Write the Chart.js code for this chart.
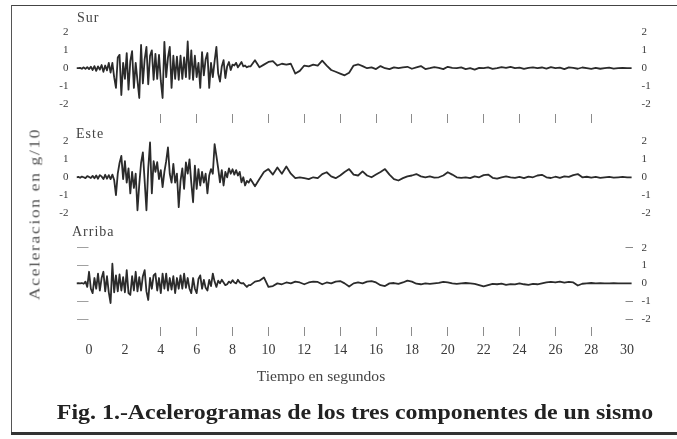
<!DOCTYPE html>
<html><head><meta charset="utf-8">
<script src="https://cdn.jsdelivr.net/npm/chart.js@4.4.0/dist/chart.umd.min.js"></script>
<style>
html,body{margin:0;padding:0;background:#fff;}
#wrap{position:relative;width:677px;height:439px;overflow:hidden;background:#fff;font-family:"Liberation Serif","Times New Roman",serif;color:#333;}
#c{position:absolute;left:0;top:0;}
.t{position:absolute;white-space:nowrap;line-height:1;}
.fit{transform-origin:50% 50%;}
</style></head><body>
<div id="wrap">
<div style="position:absolute;left:12px;top:5px;width:665px;height:0;border-top:1.5px solid #444"></div>
<div style="position:absolute;left:11px;top:5px;width:0;height:430px;border-left:1.5px solid #555"></div>
<div style="position:absolute;left:11px;top:432px;width:666px;height:3px;background:#333"></div>
<canvas id="c" width="677" height="439"></canvas>
<div class="t" style="left:77px;top:11px;font-size:14px;letter-spacing:1px;color:#444">Sur</div>
<div class="t" style="left:76px;top:127px;font-size:14px;letter-spacing:1px;color:#444">Este</div>
<div class="t" style="left:72px;top:225px;font-size:14px;letter-spacing:1px;color:#444">Arriba</div>
<div class="t fit" id="ytitle" style="left:35px;top:214px;font-size:15px;color:#555">Aceleracion en g/10</div>
<div class="t fit" id="xtitle" style="left:321px;top:377px;font-size:14px;color:#444">Tiempo en segundos</div>
<div class="t fit" id="caption" style="left:355px;top:412px;font-size:20px;font-weight:bold;color:#222">Fig. 1.-Acelerogramas de los tres componentes de un sismo</div>
</div>
<script>
// time base (s)
const TIME_S = [
-0.7,-0.6,-0.5,-0.4,-0.3,-0.2,-0.1,0,0.1,0.2,
0.3,0.4,0.5,0.6,0.7,0.8,0.9,1.0,1.1,1.2,
1.3,1.4,1.5,1.6,1.7,1.8,1.9,2.0,2.1,2.2,
2.3,2.4,2.5,2.6,2.7,2.8,2.9,3.0,3.1,3.2,
3.3,3.4,3.5,3.6,3.7,3.8,3.9,4.0,4.1,4.2,
4.3,4.4,4.5,4.6,4.7,4.8,4.9,5.0,5.1,5.2,
5.3,5.4,5.5,5.6,5.7,5.8,5.9,6.0,6.1,6.2,
6.3,6.4,6.5,6.6,6.7,6.8,6.9,7.0,7.1,7.2,
7.3,7.4,7.5,7.6,7.7,7.8,7.9,8.0,8.1,8.2,
8.3,8.4,8.5,8.6,8.7,8.8,8.9,
9,9.25,9.5,9.75,10,10.25,10.5,10.75,
11,11.25,11.5,11.75,12,12.25,12.5,12.75,
13,13.25,13.5,13.75,14,14.25,14.5,14.75,
15,15.25,15.5,15.75,16,16.25,16.5,16.75,
17,17.25,17.5,17.75,18,18.25,18.5,18.75,
19,19.25,19.5,19.75,20,20.25,20.5,20.75,
21,21.25,21.5,21.75,22,22.25,22.5,22.75,
23,23.25,23.5,23.75,24,24.25,24.5,24.75,
25,25.25,25.5,25.75,26,26.25,26.5,26.75,
27,27.25,27.5,27.75,28,28.25,28.5,28.75,
29,29.25,29.5,29.75,30,30.25
];
// acceleration, g/10
const SUR = [
0,0,0.02,-0.03,0.05,-0.04,0.06,-0.05,0.08,-0.1,
0.12,-0.15,0.1,-0.08,0.18,-0.2,0.15,-0.12,0.3,-0.25,
0.3,-0.5,-1.1,0.6,0.75,-1.5,0.3,-0.6,0.85,-1.2,
0.4,0.95,-1.1,0.3,-0.7,-1.67,1.3,-0.85,0.5,1.2,
-0.9,0.7,1.0,-0.65,0.8,-0.6,0.75,-0.7,-1.67,1.48,
-0.5,0.6,1.2,-1.1,0.7,-0.6,0.65,-0.65,0.7,-0.6,
0.6,-0.5,1.5,-0.6,1.0,-0.65,0.7,-0.5,0.3,-1.1,
0.9,-0.4,0.5,0.85,-1.1,0.3,-0.5,0.4,1.2,-0.3,
-0.75,0.1,0.45,-0.55,0.1,0.35,-0.1,0.2,0.15,0.3,
0.05,0.2,0.35,0.1,0.15,0.05,0.1,
0.1,0.45,0.05,0.2,0.35,0.4,0.15,0.25,
0.2,0.25,-0.3,-0.15,0.15,0.1,0.2,0.15,
0.42,0.15,-0.1,-0.2,-0.3,-0.4,-0.25,0.15,
0.22,0.12,0,0.05,-0.05,0.12,0,-0.05,
0.05,0,0.05,0.08,-0.03,0.05,0.12,-0.05,
0,0.06,0.02,-0.05,0.08,0.02,0,0.05,
-0.05,0,-0.08,0.02,0,0.05,-0.04,0,
0.06,0.02,0.08,0,0.03,-0.04,0.02,0.05,
0,0.04,-0.02,0.06,0,0.03,-0.05,0.05,
0.02,-0.03,0.04,0,-0.04,0.02,-0.03,0,
0.03,-0.02,0,0.02,0,0
];
const ESTE = [
0,0.02,-0.03,0.04,0,-0.05,0.06,0.02,-0.04,0.08,
-0.06,0.1,-0.08,0.12,0.05,-0.1,0.14,-0.08,0.12,-0.1,
0.15,-0.15,-1.0,0.2,0.8,1.2,-0.1,0.9,-0.3,0.5,
-0.9,0.3,-0.6,0.2,-1.85,-0.4,0.8,1.4,-0.2,-1.85,
0.5,1.95,-0.9,0.9,0.3,0.85,-0.1,0.4,-0.55,0.3,
0.9,1.67,0.2,-0.3,0.75,-0.3,0.2,-1.67,-0.2,0.5,
-0.65,0.83,0.2,1.0,-0.3,-1.4,0.65,-0.65,0.46,-0.46,
0.3,-0.3,0.2,-0.9,0.1,0.46,0.2,1.85,1.2,0.5,
-0.28,0.4,-0.46,0.3,0,0.5,0.2,0.45,0.15,0.4,
0.1,0.3,-0.28,0,-0.46,-0.2,-0.3,
-0.1,-0.5,-0.1,0.3,0.46,0.15,0.55,0.2,
0.6,0.2,-0.05,0,-0.05,-0.1,0,-0.05,
0.18,0.28,0.05,-0.05,0.1,0.3,0.46,0.15,
0.1,0.33,0.1,0,0.15,0.3,0.46,0.15,
-0.1,-0.18,-0.05,0.05,0.1,0.18,0.05,0,
0.05,-0.02,0,0.1,0.28,0.15,0,-0.03,
0,-0.05,0.05,0,0.12,0.15,-0.03,-0.08,
0,0.05,0,-0.03,0.02,-0.05,0.04,0,
0.1,0.14,0,-0.04,0.03,-0.03,0.05,0.02,
0.12,0.18,0,0.03,-0.02,0.02,-0.03,0,
0.02,-0.02,0,0.02,0,0
];
const ARRIBA = [
0,0.01,0,0.02,-0.02,0.1,-0.2,0.65,-0.3,-0.55,
0.3,-0.3,0.55,-0.4,0.3,0.65,-0.45,0.4,-0.5,-1.1,
1.1,-0.5,0.45,-0.45,0.5,-0.4,0.35,-0.5,0.74,-0.55,
-0.65,0.4,-0.4,0.65,-0.45,0.35,-0.4,0.4,0.74,-0.45,
-0.93,0.3,-0.3,0.45,0.55,-0.4,0.3,-0.55,0.55,-0.3,
0.55,-0.4,0.3,-0.35,0.4,-0.55,0.3,-0.3,0.45,-0.3,
0.55,-0.25,0.3,-0.3,-0.55,0.3,-0.3,-0.55,0.25,0.45,
-0.3,0.2,-0.25,-0.4,0.2,-0.15,0.55,0.1,-0.2,0.15,
0,0.2,0.05,-0.1,-0.05,0.1,0.02,0.18,0.05,0,
0.2,0.05,0,0.02,-0.1,-0.2,-0.1,
-0.1,0.1,0.15,0.33,-0.2,-0.15,0,-0.05,
0.05,0,0.1,0.05,-0.05,0.05,0.1,0.08,
-0.05,0.05,0,0.1,0.13,0,-0.18,0,
0.05,0,0.1,0.13,0.05,-0.1,-0.15,0,
0.02,-0.03,0.05,0.15,0.1,-0.02,-0.05,0,
-0.03,0,0.03,0.08,0.05,0,-0.03,0,
0.02,0,-0.03,-0.1,-0.17,-0.1,-0.03,-0.05,
-0.02,-0.08,-0.04,-0.06,0,-0.05,-0.08,-0.03,
-0.05,0,0.05,0.08,0.05,0.1,0.04,0.08,
0.05,-0.12,-0.02,0,0.02,0,0.01,0,
0,0.01,0,0,0,0
];
const X_TICKS = [0,2,4,6,8,10,12,14,16,18,20,22,24,26,28,30];
const X_MARKS = [4,6,8,10,12,14,16,18,20,22,24,26,28];
const Y_TICKS = [-2,-1,0,1,2];
const ARRIBA_RIGHT_MARKS = [2,-1,-2];

const FONT = '"Liberation Serif","Times New Roman",serif';
const INK = '#2b2b2b';
const MARK = '#8c8c8c';
const LABEL = '#3a3a3a';
const pts = arr => TIME_S.map((t, i) => ({x: t, y: arr[i]}));
const setY = s => { s.ticks = Y_TICKS.map(v => ({value: v})); };
const setX = s => { s.ticks = X_TICKS.map(v => ({value: v})); };
const xMarkColor = ctx => (ctx.tick && X_MARKS.includes(ctx.tick.value)) ? MARK : 'rgba(0,0,0,0)';

const PANEL = {
  sur:  {min: -3.1111, max: 2.5556, w: 102},
  este: {min: -2.8889, max: 3.0,    w: 106},
  arr:  {min: -2.4444, max: 3.0556, w: 99}
};
function leftAxis(p, weight, extra) {
  return Object.assign({
    type: 'linear', axis: 'y', position: 'left', stack: 'L', stackWeight: p.w, weight: weight,
    min: p.min, max: p.max, afterBuildTicks: setY,
    afterFit: s => { s.width = 76.5; },
    grid: {display: false, drawTicks: false}, border: {display: false},
    ticks: {padding: 8, color: LABEL, font: {family: FONT, size: 11}}
  }, extra || {});
}
function rightAxis(p, weight, extra) {
  return Object.assign({
    type: 'linear', axis: 'y', position: 'right', stack: 'R', stackWeight: p.w, weight: weight,
    min: p.min, max: p.max, afterBuildTicks: setY,
    afterFit: s => { s.width = 44.5; },
    grid: {display: false, drawTicks: false}, border: {display: false},
    ticks: {padding: 9, color: LABEL, font: {family: FONT, size: 11}}
  }, extra || {});
}

const line = (data, yID) => ({
  data: pts(data), xAxisID: 'x', yAxisID: yID,
  borderColor: INK, borderWidth: 1.8, pointRadius: 0, tension: 0, fill: false,
  borderJoinStyle: 'round'
});

new Chart(document.getElementById('c'), {
  type: 'line',
  data: { datasets: [line(SUR, 'ySur'), line(ESTE, 'yEste'), line(ARRIBA, 'yArr')] },
  options: {
    responsive: false, animation: false, devicePixelRatio: 1, events: [],
    layout: {padding: {left: 0, right: 0, top: 20, bottom: 0}},
    plugins: {legend: {display: false}, tooltip: {enabled: false}, title: {display: false}},
    scales: {
      x: {
        type: 'linear', axis: 'x', position: 'bottom', min: -0.7, max: 30.3,
        afterBuildTicks: setX, afterFit: s => { s.height = 112; },
        grid: {drawOnChartArea: false, drawTicks: true, tickLength: 9, color: xMarkColor, lineWidth: 1},
        border: {display: false},
        ticks: {padding: 6, color: LABEL, font: {family: FONT, size: 14}, maxRotation: 0, autoSkip: false, callback: v => String(v)}
      },
      xMid: {
        type: 'linear', axis: 'x', position: {ySur: -2.556}, min: -0.7, max: 30.3,
        afterBuildTicks: setX,
        grid: {drawOnChartArea: false, drawTicks: true, tickLength: 9, color: xMarkColor, lineWidth: 1},
        border: {display: false}, ticks: {display: false}
      },
      yArr: leftAxis(PANEL.arr, 1, {
        grid: {display: true, drawOnChartArea: false, drawTicks: true, tickLength: -12, color: '#a0a0a0'},
        ticks: {display: false}
      }),
      yEste: leftAxis(PANEL.este, 2),
      ySur: leftAxis(PANEL.sur, 3),
      rSur: rightAxis(PANEL.sur, 1),
      rEste: rightAxis(PANEL.este, 2),
      rArr: rightAxis(PANEL.arr, 3, {
        grid: {display: true, drawOnChartArea: false, drawTicks: true, tickLength: -7,
               color: ctx => (ctx.tick && ARRIBA_RIGHT_MARKS.includes(ctx.tick.value)) ? '#888' : 'rgba(0,0,0,0)'},
        ticks: {padding: 16, color: LABEL, font: {family: FONT, size: 11}}
      })
    }
  }
});

function fitMixed(id, target, rot, spacingShare) {
  const el = document.getElementById(id);
  el.style.letterSpacing = '0px';
  const w0 = el.offsetWidth;
  const n = el.textContent.length;
  const ls = spacingShare * (target - w0) / n;
  el.style.letterSpacing = ls.toFixed(2) + 'px';
  const s = target / el.offsetWidth;
  el.style.transform = 'translate(-50%,-50%)' + (rot ? ' rotate(-90deg)' : '') + ' scaleX(' + s.toFixed(4) + ')';
}
function fitAll() {
  fitMixed('ytitle', 172, true, 0.5);
  fitMixed('xtitle', 128, false, 0);
  fitMixed('caption', 596, false, 0);
}
fitAll();
if (document.fonts && document.fonts.ready) document.fonts.ready.then(fitAll);
</script>
</body></html>
